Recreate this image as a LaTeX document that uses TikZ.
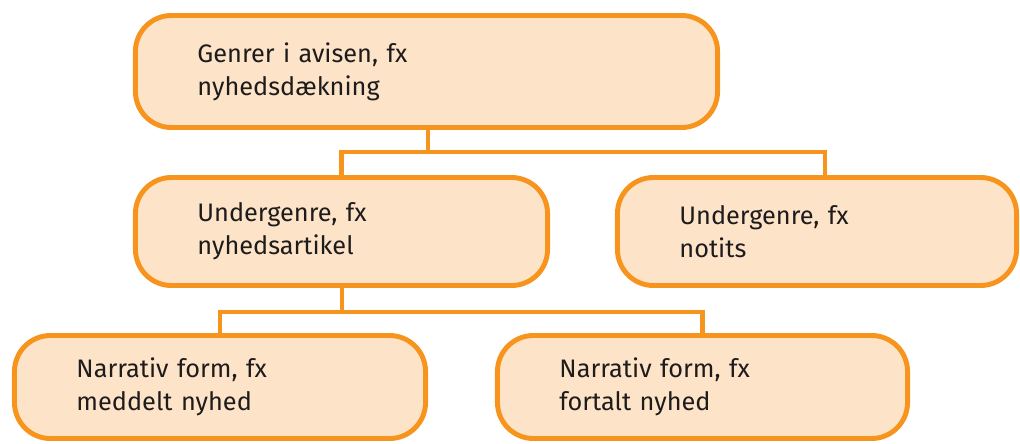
\documentclass[tikz,border=0pt]{standalone}
\usepackage{fontspec}
\setmainfont{Fira Sans}
\definecolor{genreorange}{RGB}{247,148,29}
\definecolor{genrefill}{RGB}{253,228,200}
\definecolor{genretext}{RGB}{30,27,28}
\usetikzlibrary{positioning}

\begin{document}
\begin{tikzpicture}[x=0.025cm, y=-0.025cm,
  gbox/.style={draw=genreorange, fill=genrefill, line width=3.5pt, rounded corners=0.9cm, align=left, inner xsep=1.55cm, inner ysep=0pt, text=genretext, font=\fontsize{18}{23.5}\selectfont},
  link/.style={draw=genreorange, line width=3.2pt}
]
  \useasboundingbox (0,0) rectangle (1020,443);

  % top level
  \node[gbox, text width=11.45cm, minimum height=2.8cm] (avis) at (426.5,71.5) {Genrer i avisen, fx\\nyhedsdækning};

  % undergenres
  \node[gbox, text width=7.2cm, minimum height=2.7cm] (artikel) at (341.5,231.5) {Undergenre, fx\\nyhedsartikel};
  \node[gbox, text width=6.875cm, minimum height=2.7cm] (notits) at (817,231.5) {Undergenre, fx\\notits};

  % narrative forms
  \node[gbox, text width=7.175cm, minimum height=2.575cm] (meddelt) at (220,387) {Narrativ form, fx\\meddelt nyhed};
  \node[gbox, text width=7.15cm, minimum height=2.575cm] (fortalt) at (702.5,387) {Narrativ form, fx\\fortalt nyhed};

  % connectors
  \coordinate (j1) at (428,152);
  \coordinate (j2) at (342,312);
  \draw[link] (avis.south -| j1) -- (j1);
  \draw[link] (artikel.north) |- (j1) -| ([xshift=0.2cm]notits.north);
  \draw[link] (artikel.south -| j2) -- (j2);
  \draw[link] (meddelt.north) |- (j2) -| (fortalt.north);
\end{tikzpicture}
\end{document}
